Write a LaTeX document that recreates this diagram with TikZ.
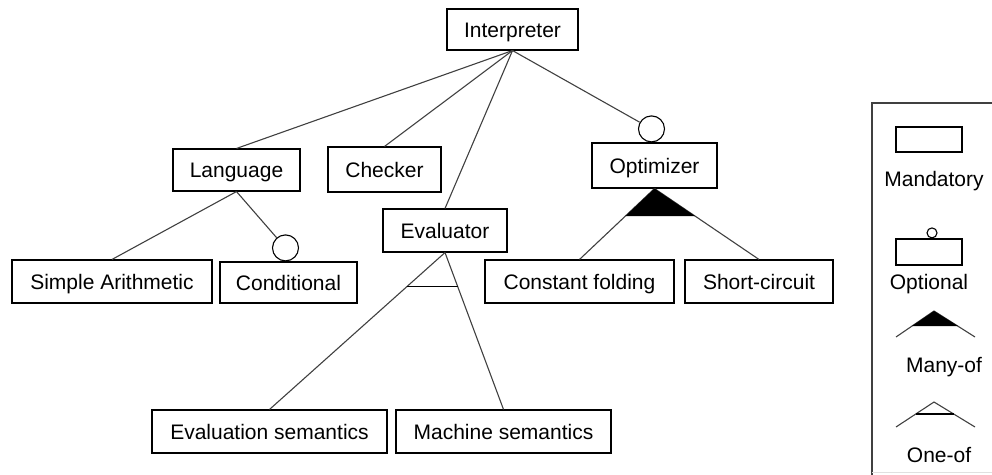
\documentclass[tikz,border=0pt]{standalone}
\usepackage{fontspec}
\setmainfont{Liberation Sans}
\usetikzlibrary{calc}
\begin{document}
\begin{tikzpicture}[x=1pt,y=-1pt,
  fbox/.style={draw=black,line width=1.1pt,inner sep=0pt,font=\fontsize{21}{25}\selectfont,minimum height=43pt,text height=16pt,text depth=1pt},
  conn/.style={draw=black!75,line width=1.1pt},
  optc/.style={circle,draw=black,line width=1.1pt,fill=white,minimum size=26pt,inner sep=0pt},
  lbl/.style={font=\fontsize{21}{25}\selectfont,inner sep=0pt,anchor=base},
  lshape/.style={draw=black,line width=1.1pt,inner sep=0pt}]
\useasboundingbox (0,0) rectangle (992,474);
% feature boxes
\node[fbox,minimum width=131pt,minimum height=41pt] (interp) at (512.5,29.5) {Interpreter};
\node[fbox,minimum width=127pt,minimum height=42pt] (lang) at (236.5,170) {Language};
\node[fbox,minimum width=113pt,minimum height=45pt] (check) at (384.5,169.5) {Checker};
\node[fbox,minimum width=125pt,minimum height=45pt] (opt) at (654.5,165.5) {Optimizer};
\node[fbox,minimum width=124pt,minimum height=43pt] (eval) at (445,230.5) {Evaluator};
\node[fbox,minimum width=200pt] (simple) at (112,281.5) {Simple Arithmetic};
\node[fbox,minimum width=137pt,minimum height=41pt] (cond) at (288.5,282.5) {Conditional};
\node[fbox,minimum width=189pt] (const) at (579.5,281.5) {Constant folding};
\node[fbox,minimum width=148pt] (short) at (759,281.5) {Short-circuit};
\node[fbox,minimum width=235pt] (evsem) at (269.5,431.5) {Evaluation semantics};
\node[fbox,minimum width=215pt] (mach) at (503.5,431.5) {Machine semantics};
% optional circles
\node[optc,anchor=south] (optc) at ($(opt.north)+(-3,0)$) {};
\node[optc,anchor=south] (condc) at ($(cond.north)+(-3,0)$) {};
% connectors
\draw[conn] (interp.south) -- (lang.north);
\draw[conn] (interp.south) -- (check.north);
\draw[conn] (interp.south) -- (eval.north);
\draw[conn] (interp.south) -- (optc);
\draw[conn] (lang.south) -- (simple.north);
\draw[conn] (lang.south) -- (condc);
\draw[conn] (eval.south) -- (evsem.north);
\draw[conn] (eval.south) -- (mach.north);
\draw[conn] (opt.south) -- (const.north);
\draw[conn] (opt.south) -- (short.north);
% many-of (filled)
\fill[black] (opt.south) -- ($(opt.south)!0.39!(const.north)$) -- ($(opt.south)!0.39!(short.north)$) -- cycle;
% one-of (open)
\draw[conn,draw=black] ($(eval.south)!0.215!(evsem.north)$) -- ($(eval.south)!0.215!(mach.north)$);
% legend
\draw[black!75,line width=1.2pt] (872,476) -- (872,103) -- (994,103);
\draw[black!12,line width=1pt] (872,472) -- (994,472);
\node[lshape,minimum width=66pt,minimum height=25pt] (lmand) at (929,139.5) {};
\node[lbl] (tmand) at (934,186) {Mandatory};
\node[lshape,minimum width=66pt,minimum height=26pt] (lopt) at (929,252) {};
\node[lshape,circle,minimum size=10pt,anchor=south] (loptc) at ($(lopt.north)+(3,0)$) {};
\node[lbl] (topt) at (929,289) {Optional};
\draw[conn] (896,337) -- (934,311) -- (975,337);
\fill[black] (934,311) -- (912,326) -- (958,326) -- cycle;
\node[lbl] (tmany) at (944,372) {Many-of};
\draw[conn] (896,427) -- (934,402) -- (975,427);
\draw[conn,draw=black] (916,414) -- (954,414);
\node[lbl] (tone) at (939,462) {One-of};
\end{tikzpicture}
\end{document}
